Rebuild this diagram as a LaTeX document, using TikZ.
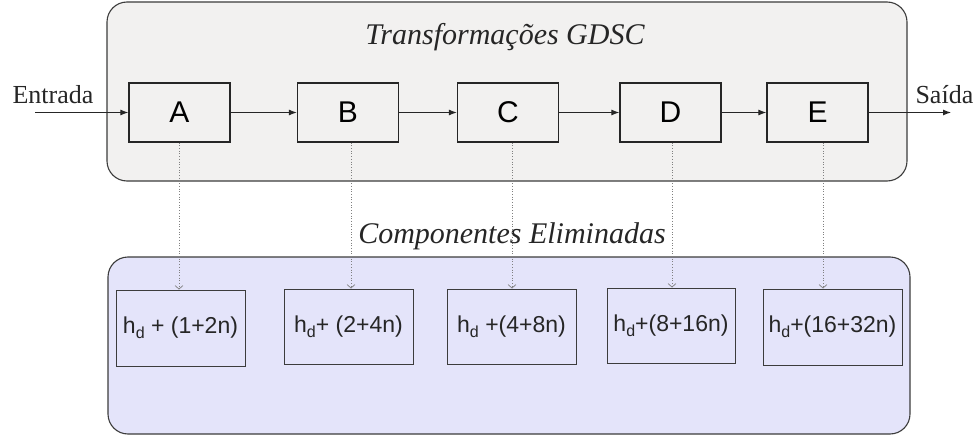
\documentclass[tikz,border=0pt]{standalone}
\usepackage{fontspec}
\setmainfont{Liberation Serif}
\newfontfamily\arialf{Liberation Sans}
\usetikzlibrary{arrows.meta}
\definecolor{topfill}{RGB}{242,241,240}
\definecolor{lowfill}{RGB}{228,228,250}
\definecolor{edge}{RGB}{60,60,60}
\newcommand{\hsub}{h\raisebox{-5pt}{\fontsize{16}{16}\selectfont d}}
\tikzset{
  container/.style={draw=edge, line width=1.1pt, rounded corners=20pt},
  stagebox/.style={draw=black!85, line width=1.3pt, minimum width=101pt, minimum height=59pt, inner sep=0pt, font=\arialf\fontsize{30}{30}\selectfont},
  compbox/.style={draw=edge, line width=1pt, inner sep=0pt, text=black!85, font=\arialf\fontsize{23}{23}\selectfont},
  flow/.style={line width=1pt, black!85, -{Latex[length=8pt,width=6pt]}},
  dotarrow/.style={draw=black!50, line width=0.7pt, dotted, -{Straight Barb[length=3.5pt,width=8pt]}},
  serifit/.style={font=\itshape\fontsize{30}{30}\selectfont, text=black!85},
  seriflab/.style={font=\fontsize{26}{26}\selectfont, text=black!85},
}
\begin{document}
\begin{tikzpicture}[x=1pt,y=-1pt]
\useasboundingbox (0,0) rectangle (978,436);
\path[container, fill=topfill] (107,2) rectangle (907,181);
\path[container, fill=lowfill] (108,257) rectangle (910,434);

\node[serifit, anchor=base] (title) at (505,45) {Transformações GDSC};
\node[serifit, anchor=base] (comp) at (512,243) {Componentes Eliminadas};

\node[stagebox] (A) at (179.5,112.5) {A};
\node[stagebox] (B) at (348,112.5) {B};
\node[stagebox] (C) at (508,112.5) {C};
\node[stagebox] (D) at (670.5,112.5) {D};
\node[stagebox] (E) at (817.5,112.5) {E};

\node[seriflab, anchor=base west] (in) at (9,103) {Entrada};
\node[seriflab, anchor=base west] (out) at (912,103) {Saída};
\coordinate (inS) at (35,112.5);
\coordinate (outE) at (951,112.5);

\draw[flow] (inS) -- (A.west);
\draw[flow] (A) -- (B);
\draw[flow] (B) -- (C);
\draw[flow] (C) -- (D);
\draw[flow] (D) -- (E);
\draw[flow] (E.east) -- (outE);

\node[compbox, minimum width=129pt, minimum height=76pt] (L1) at (180.5,328) {\hsub{} + (1+2n)};
\node[compbox, minimum width=129pt, minimum height=75pt] (L2) at (348.5,326.5) {\hsub{}+ (2+4n)};
\node[compbox, minimum width=129pt, minimum height=75pt] (L3) at (511.5,326.5) {\hsub{} +(4+8n)};
\node[compbox, minimum width=128pt, minimum height=75pt] (L4) at (671,325.5) {\hsub{}+(8+16n)};
\node[compbox, minimum width=139pt, minimum height=76pt] (L5) at (832.5,327) {\hsub{}+(16+32n)};

\draw[dotarrow] ([xshift=-0.5pt]A.south) -- ([xshift=-0.5pt]A.south |- L1.north);
\draw[dotarrow] ([xshift=3pt]B.south) -- ([xshift=3pt]B.south |- L2.north);
\draw[dotarrow] ([xshift=4pt]C.south) -- ([xshift=4pt]C.south |- L3.north);
\draw[dotarrow] ([xshift=1.5pt]D.south) -- ([xshift=1.5pt]D.south |- L4.north);
\draw[dotarrow] ([xshift=5.5pt]E.south) -- ([xshift=5.5pt]E.south |- L5.north);
\end{tikzpicture}
\end{document}
